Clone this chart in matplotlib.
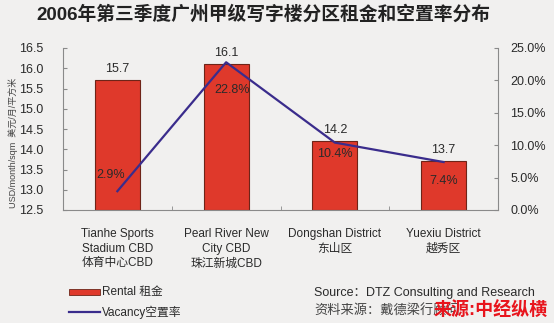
import matplotlib
matplotlib.use("Agg")
import matplotlib.pyplot as plt
from matplotlib.patches import Rectangle
from matplotlib.lines import Line2D
from matplotlib.ticker import FuncFormatter, FixedLocator

plt.rcParams['font.family'] = ['Liberation Sans', 'Noto Sans CJK SC', 'DejaVu Sans']

# Data
districts = [
    "Tianhe Sports\nStadium CBD\n体育中心CBD",
    "Pearl River New\nCity CBD\n珠江新城CBD",
    "Dongshan District\n东山区",
    "Yuexiu District\n越秀区",
]
rental = [15.7, 16.1, 14.2, 13.7]          # USD/month/sqm
vacancy = [2.9, 22.8, 10.4, 7.4]          # percent
rental_ticks = [12.5, 13.0, 13.5, 14.0, 14.5, 15.0, 15.5, 16.0, 16.5]
vacancy_ticks = [0, 5, 10, 15, 20, 25]

# Style
bg = '#f1f0ef'
bar_color = '#df392b'
bar_edge = '#6e2418'
line_color = '#3a2c8c'
axis_color = '#8a8a8a'
text_color = '#2a2a2a'

W, H = 554, 323
fig = plt.figure(figsize=(W / 100, H / 100), dpi=100, facecolor=bg)


def fx(x):
    return x / W


def fy(y):
    return 1 - y / H


ax = fig.add_axes([fx(63), fy(210), fx(498) - fx(63), fy(48) - fy(210)])
ax.set_facecolor(bg)
x = list(range(len(districts)))

ax.bar(x, [r - rental_ticks[0] for r in rental], bottom=rental_ticks[0], width=0.415,
       color=bar_color, edgecolor=bar_edge, linewidth=0.8, zorder=2)
ax.set_xlim(-0.5, len(districts) - 0.5)
ax.set_ylim(rental_ticks[0], rental_ticks[-1])
ax.set_yticks(rental_ticks)
ax.yaxis.set_major_formatter(FuncFormatter(lambda v, p: f"{v:.1f}"))

for xi, r in zip(x, rental):
    ax.annotate(f"{r:.1f}", (xi, r), xytext=(0, 4), textcoords='offset points',
                ha='center', va='bottom', fontsize=9, color=text_color)

# Category tick labels
ax.xaxis.set_major_locator(FixedLocator(x))
ax.set_xticklabels(districts, fontsize=8.5, color=text_color, linespacing=1.3)
ax.tick_params(axis='x', which='major', length=0, pad=13)
ax.xaxis.set_minor_locator(FixedLocator([0.5, 1.5, 2.5]))
ax.tick_params(axis='x', which='minor', direction='in', length=3, color=axis_color)

ax.tick_params(axis='y', direction='in', length=3, color=axis_color, pad=14,
               labelsize=9, labelcolor=text_color)
for side in ('top', 'right'):
    ax.spines[side].set_visible(False)
for side in ('left', 'bottom'):
    ax.spines[side].set_color(axis_color)
    ax.spines[side].set_linewidth(0.8)

# Vacancy on secondary axis
ax2 = ax.twinx()
ax2.plot(x, vacancy, color=line_color, linewidth=1.6, zorder=3)
ax2.set_ylim(vacancy_ticks[0], vacancy_ticks[-1])
ax2.set_yticks(vacancy_ticks)
ax2.yaxis.set_major_formatter(FuncFormatter(lambda v, p: f"{v:.1f}%"))
ax2.tick_params(axis='y', direction='in', length=3, color=axis_color, pad=9,
                labelsize=9, labelcolor=text_color)
for side in ('top', 'left', 'bottom'):
    ax2.spines[side].set_visible(False)
ax2.spines['right'].set_color(axis_color)
ax2.spines['right'].set_linewidth(0.8)

vac_offsets = [(-5, 12), (4, -20), (0, -8), (0, -14)]
for xi, v, off in zip(x, vacancy, vac_offsets):
    ax2.annotate(f"{v:.1f}%", (xi, v), xytext=off, textcoords='offset points',
                 ha='center', va='center', fontsize=9, color=text_color, zorder=4)

# Title and axis caption
fig.text(fx(263), fy(14), "2006年第三季度广州甲级写字楼分区租金和空置率分布",
         ha='center', va='center', fontsize=13.5, fontweight='bold', color='#222222')
fig.text(fx(13), fy(143), "USD/month/sqm  美元/月/平方米", rotation=90,
         ha='center', va='center', fontsize=6.5, color='#444444')

# Legend
fig.patches.append(Rectangle((fx(69), fy(294.5)), fx(100) - fx(69), fy(289) - fy(294.5),
                             transform=fig.transFigure, facecolor=bar_color,
                             edgecolor=bar_edge, linewidth=0.6))
fig.text(fx(102), fy(292), "Rental 租金", ha='left', va='center', fontsize=8.5,
         color=text_color)
fig.lines.append(Line2D([fx(69), fx(100)], [fy(312), fy(312)], transform=fig.transFigure,
                        color=line_color, linewidth=1.6))
fig.text(fx(102), fy(312), "Vacancy空置率", ha='left', va='center', fontsize=8.5,
         color=text_color)

# Source notes
fig.text(fx(314), fy(293), "Source：DTZ Consulting and Research", ha='left', va='center',
         fontsize=9, color=text_color)
fig.text(fx(314), fy(311), "资料来源：戴德梁行顾问", ha='left', va='center',
         fontsize=9.5, color='#444444')
fig.text(fx(548), fy(311), "来源:中经纵横", ha='right', va='center',
         fontsize=13, fontweight='bold', color='#e8141c')

fig.savefig("out.png", dpi=100, facecolor=bg)
